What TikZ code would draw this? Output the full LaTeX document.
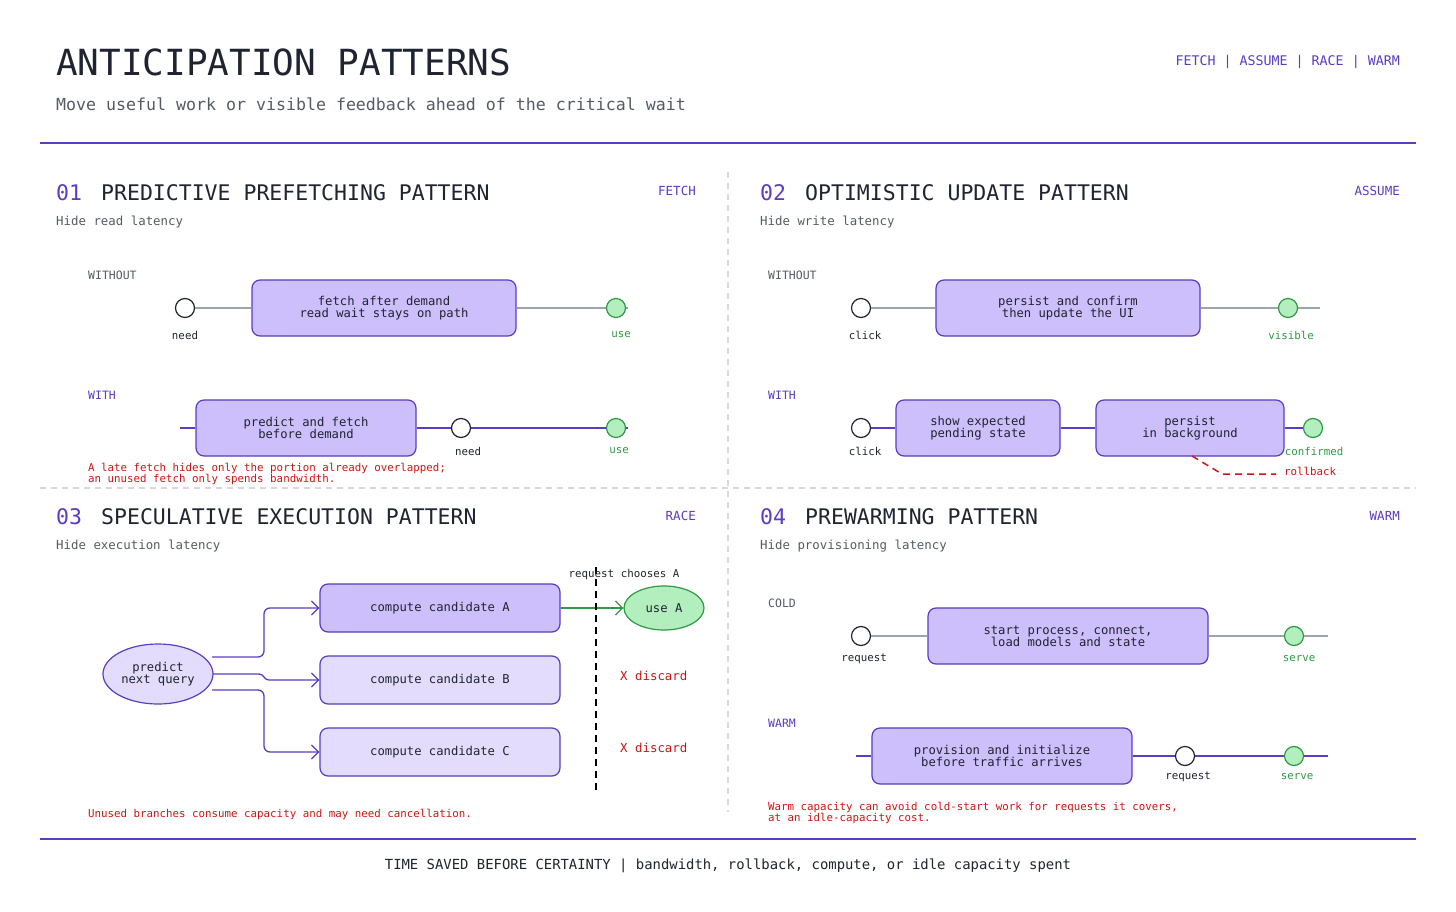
\documentclass[tikz,border=0pt]{standalone}
\usepackage{fontspec}
\setmainfont{DejaVu Sans Mono}
\setmonofont{DejaVu Sans Mono}
\usetikzlibrary{arrows.meta,shapes.geometric}
\definecolor{pur}{HTML}{5B3CC4}
\definecolor{boxf}{HTML}{CDBFFC}
\definecolor{boxl}{HTML}{E4DCFD}
\definecolor{grn}{HTML}{2E9A44}
\definecolor{grnf}{HTML}{B3EFBE}
\definecolor{red}{HTML}{D01414}
\definecolor{gline}{HTML}{9CA3AF}
\definecolor{ink}{HTML}{1F2430}
\definecolor{sub}{HTML}{555B66}
\tikzset{
 fs/.style={font=\fontsize{#1}{#1}\selectfont},
 lt/.style={anchor=west,inner sep=0pt},
 box/.style={draw=pur,line width=1.2pt,fill=boxf,rounded corners=8pt,inner sep=0pt,fs=12.2,align=center,text=ink},
 lbox/.style={box,fill=boxl},
 wc/.style={circle,draw=ink,line width=1.2pt,fill=white,minimum size=19pt,inner sep=0pt},
 gc/.style={circle,draw=grn,line width=1.2pt,fill=grnf,minimum size=19pt,inner sep=0pt},
 gl/.style={gline,line width=1.5pt},
 pl/.style={pur,line width=1.5pt},
 lab/.style={fs=10.8,inner sep=0pt,text=ink},
 glab/.style={lab,text=grn},
 note/.style={lt,fs=10.8,text=red,align=left},
 ptitle/.style={lt,fs=21.5,text=ink},
 pnum/.style={lt,fs=21.5,text=pur},
 tag/.style={anchor=east,inner sep=0pt,fs=12.5,text=pur},
 hide/.style={lt,fs=12.4,text=sub},
 row/.style={lt,fs=11.5,text=sub},
 rowp/.style={lt,fs=11.5,text=pur},
 arr/.style={pur,line width=1.3pt,rounded corners=6pt,-{Straight Barb[length=7pt,width=14pt,line width=1.3pt]}},
}
\begin{document}
\begin{tikzpicture}[x=1pt,y=-1pt]
\useasboundingbox[fill=white] (0,0) rectangle (1456,912);
% header
\node[lt,fs=36,text=ink] (title) at (56,62) {ANTICIPATION PATTERNS};
\node[lt,fs=16.6,text=sub] (subt) at (56,104) {Move useful work or visible feedback ahead of the critical wait};
\node[tag,fs=13.3] (tags) at (1400,62) {FETCH | ASSUME | RACE | WARM};
\coordinate (r1a) at (40,143); \coordinate (r1b) at (1416,143);
\draw[pur,line width=1.8pt] (r1a) -- (r1b);
\coordinate (r2a) at (40,839); \coordinate (r2b) at (1416,839);
\draw[pur,line width=1.8pt] (r2a) -- (r2b);
\node[fs=13.9,inner sep=0pt,text=ink] (foot) at (728,866) {TIME SAVED BEFORE CERTAINTY | bandwidth, rollback, compute, or idle capacity spent};
% dividers
\coordinate (va) at (728,172); \coordinate (vb) at (728,812);
\draw[black!15,line width=1.2pt,dash pattern=on 6pt off 5pt] (va) -- (vb);
\coordinate (ha) at (40,488); \coordinate (hb) at (1416,488);
\draw[black!15,line width=1.2pt,dash pattern=on 6pt off 5pt] (ha) -- (hb);

% ---------- panel 1
\node[pnum] (n1) at (56,193) {01};
\node[ptitle] (t1) at (101,193) {PREDICTIVE PREFETCHING PATTERN};
\node[tag] (g1) at (696,191) {FETCH};
\node[hide] (h1) at (56,222) {Hide read latency};
\node[row] (w1) at (88,275) {WITHOUT};
\node[box,minimum width=264pt,minimum height=56pt] (b1) at (384,308) {fetch after demand\\read wait stays on path};
\node[wc] (c1) at (185,308) {};
\node[gc] (e1) at (616,308) {};
\coordinate (x1) at (628,308);
\draw[gl] (c1) -- (b1); \draw[gl] (b1) -- (e1); \draw[gl] (e1) -- (x1);
\node[lab] at (185,335) {need};
\node[glab] at (621,335) {use};
\node[rowp] (wi1) at (88,395) {WITH};
\coordinate (s2) at (180,428); \coordinate (x2) at (628,428);
\node[box,minimum width=220pt,minimum height=56pt] (b2) at (306,428) {predict and fetch\\before demand};
\node[wc] (c2) at (461,428) {};
\node[gc] (e2) at (616,428) {};
\draw[pl] (s2) -- (b2); \draw[pl] (b2) -- (c2); \draw[pl] (c2) -- (e2); \draw[pl] (e2) -- (x2);
\node[lab] at (468,451) {need};
\node[glab] at (619,451) {use};
\node[note] (nt1) at (88,474) {A late fetch hides only the portion already overlapped;\\an unused fetch only spends bandwidth.};

% ---------- panel 2
\node[pnum] (n2) at (760,193) {02};
\node[ptitle] (t2) at (805,193) {OPTIMISTIC UPDATE PATTERN};
\node[tag] (g2) at (1400,191) {ASSUME};
\node[hide] (h2) at (760,222) {Hide write latency};
\node[row] (w2) at (768,275) {WITHOUT};
\node[box,minimum width=264pt,minimum height=56pt] (b3) at (1068,308) {persist and confirm\\then update the UI};
\node[wc] (c3) at (861,308) {};
\node[gc] (e3) at (1288,308) {};
\coordinate (x3) at (1320,308);
\draw[gl] (c3) -- (b3); \draw[gl] (b3) -- (e3); \draw[gl] (e3) -- (x3);
\node[lab] at (865,335) {click};
\node[glab] at (1291,335) {visible};
\node[rowp] (wi2) at (768,395) {WITH};
\node[box,minimum width=164pt,minimum height=56pt] (b4) at (978,428) {show expected\\pending state};
\node[box,minimum width=188pt,minimum height=56pt] (b5) at (1190,428) {persist\\in background};
\node[wc] (c4) at (861,428) {};
\node[gc] (e4) at (1313,428) {};
\draw[pl] (c4) -- (b4); \draw[pl] (b4) -- (b5); \draw[pl] (b5) -- (e4);
\node[lab] at (865,451) {click};
\node[glab] at (1314,451) {confirmed};
\coordinate (rb1) at (1192,456); \coordinate (rb2) at (1222,474); \coordinate (rb3) at (1276,474);
\draw[red,line width=1.5pt,dash pattern=on 7pt off 5pt] (rb1) -- (rb2) -- (rb3);
\node[lab,text=red] at (1310,471) {rollback};

% ---------- panel 3
\node[pnum] (n3) at (56,517) {03};
\node[ptitle] (t3) at (101,517) {SPECULATIVE EXECUTION PATTERN};
\node[tag] (g3) at (696,516) {RACE};
\node[hide] (h3) at (56,546) {Hide execution latency};
\node[ellipse,draw=pur,line width=1.2pt,fill=boxl,minimum width=110pt,minimum height=60pt,inner sep=0pt,fs=12.2,align=center,text=ink] (pq) at (158,674) {predict\\next query};
\node[box,minimum width=240pt,minimum height=48pt] (ca) at (440,608) {compute candidate A};
\node[lbox,minimum width=240pt,minimum height=48pt] (cb) at (440,680) {compute candidate B};
\node[lbox,minimum width=240pt,minimum height=48pt] (cc) at (440,752) {compute candidate C};
\coordinate (pa) at (212,657); \coordinate (pb) at (213,674); \coordinate (pc) at (212,690);
\draw[arr] (pa) -- (264,657) -- (264,608) -- (ca.west);
\draw[arr,rounded corners=3pt] (pb) -- (262,674) -- (266,680) -- (cb.west);
\draw[arr] (pc) -- (264,690) -- (264,752) -- (cc.west);
\node[ellipse,draw=grn,line width=1.2pt,fill=grnf,minimum width=80pt,minimum height=44pt,inner sep=0pt,fs=12.2,text=ink] (ua) at (664,608) {use A};
\draw[grn,line width=1.5pt,-{Straight Barb[length=7pt,width=14pt,line width=1.3pt]}] (ca) -- (ua);
\coordinate (d1) at (596,567); \coordinate (d2) at (596,792);
\draw[black,line width=1.5pt,dash pattern=on 7pt off 5pt] (d1) -- (d2);
\node[lab] (rq) at (624,575) {request chooses A};
\node[lt,fs=12.4,text=red] (xb) at (620,676) {X discard};
\node[lt,fs=12.4,text=red] (xc) at (620,748) {X discard};
\node[note] (nt3) at (88,814) {Unused branches consume capacity and may need cancellation.};

% ---------- panel 4
\node[pnum] (n4) at (760,517) {04};
\node[ptitle] (t4) at (805,517) {PREWARMING PATTERN};
\node[tag] (g4) at (1400,516) {WARM};
\node[hide] (h4) at (760,546) {Hide provisioning latency};
\node[row] (w4) at (768,603) {COLD};
\node[box,minimum width=280pt,minimum height=56pt] (b6) at (1068,636) {start process, connect,\\load models and state};
\node[wc] (c6) at (861,636) {};
\node[gc] (e6) at (1294,636) {};
\coordinate (x6) at (1328,636);
\draw[gl] (c6) -- (b6); \draw[gl] (b6) -- (e6); \draw[gl] (e6) -- (x6);
\node[lab] at (864,659) {request};
\node[glab] at (1299,659) {serve};
\node[rowp] (wi4) at (768,723) {WARM};
\coordinate (s7) at (856,756); \coordinate (x7) at (1328,756);
\node[box,minimum width=260pt,minimum height=56pt] (b7) at (1002,756) {provision and initialize\\before traffic arrives};
\node[wc] (c7) at (1185,756) {};
\node[gc] (e7) at (1294,756) {};
\draw[pl] (s7) -- (b7); \draw[pl] (b7) -- (c7); \draw[pl] (c7) -- (e7); \draw[pl] (e7) -- (x7);
\node[lab] at (1188,777) {request};
\node[glab] at (1297,777) {serve};
\node[note] (nt4) at (768,813) {Warm capacity can avoid cold-start work for requests it covers,\\at an idle-capacity cost.};
\end{tikzpicture}
\end{document}
